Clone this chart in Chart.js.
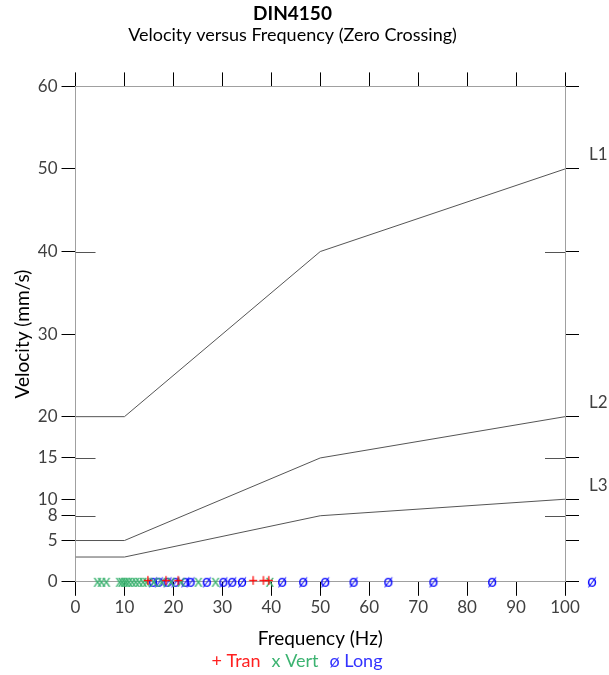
<!DOCTYPE html>
<html>
<head>
<meta charset="utf-8">
<script src="https://cdn.jsdelivr.net/npm/chart.js@4.4.1/dist/chart.umd.min.js"></script>
<style>
  html, body { margin: 0; padding: 0; background: #fff; }
  #wrap { width: 609px; height: 675px; }
</style>
</head>
<body>
<div id="wrap"><canvas id="dinChart"></canvas></div>
<script>
/*jshint esversion: 6 */

// DIN4150 guide lines
var limitFreq = [0, 10, 50, 100];
var limitL1 = [20, 20, 40, 50];
var limitL2 = [5, 5, 15, 20];
var limitL3 = [3, 3, 8, 10];

// zero crossing frequencies (Hz), drawn on the 0 velocity line
var tranFreq = [14.8, 18.5, 21.0, 36.3, 38.4, 39.5];
var vertFreq = [4.5, 5.3, 6.3, 9.0, 9.5, 10.0, 10.4, 10.9, 11.6, 12.3, 13.0, 13.8, 14.5,
                16.0, 17.6, 19.5, 21.6, 25.1, 28.6, 39.7];
// 105.5 is off scale; kept first so chart.js doesn't trim it as "not visible"
var longFreq = [105.5, 15.8, 17.0, 18.8, 20.4, 22.4, 23.5, 26.8, 30.2, 32.0, 34.0, 42.2, 46.5,
                51.0, 56.8, 63.9, 73.1, 85.1];

var velocityTicks = [0, 5, 8, 10, 15, 20, 30, 40, 50, 60];
var innerTicks = [40, 15, 8];

var FONT = 'Lato';
var TXT = '#404040';

function glyph(ch, color) {
  var c = document.createElement('canvas');
  c.width = 14;
  c.height = 18;
  var ctx = c.getContext('2d');
  ctx.font = '17px ' + FONT;
  ctx.fillStyle = color;
  ctx.textAlign = 'center';
  ctx.textBaseline = 'middle';
  ctx.fillText(ch, 7, 9);
  return c;
}

function atZero(freqs) {
  return freqs.map(function(f) { return {x: f, y: 0}; });
}

function limitLine(label, values) {
  return {
    type: 'line',
    label: label,
    endLabel: true,
    data: limitFreq.map(function(f, i) { return {x: f, y: values[i]}; }),
    borderColor: '#555555',
    borderWidth: 1,
    pointRadius: 0,
    fill: false
  };
}

function markers(label, freqs, ch, color) {
  return {
    type: 'scatter',
    label: label,
    data: atZero(freqs),
    pointStyle: glyph(ch, color),
    pointRadius: 7,
    clip: false
  };
}

var lineLabels = {
  id: 'lineLabels',
  afterDatasetsDraw: function(chart) {
    var ctx = chart.ctx;
    var whole = {left: 0, top: 0, right: chart.width, bottom: chart.height};
    chart.data.datasets.forEach(function(ds, i) {
      var pts = chart.getDatasetMeta(i).data;
      if (!ds.endLabel) {
        // points past the frame (eg. 105 Hz) are skipped by chart.js, draw them here
        pts.forEach(function(p) {
          if (p.x > chart.chartArea.right + 7) p.draw(ctx, whole);
        });
        return;
      }
      var last = pts[pts.length - 1];
      ctx.save();
      ctx.font = '17px ' + FONT;
      ctx.fillStyle = TXT;
      ctx.textBaseline = 'middle';
      ctx.fillText(ds.label, chart.chartArea.right + 24, last.y - 14);
      ctx.restore();
    });
  }
};

var innerTickMarks = {
  id: 'innerTickMarks',
  afterDraw: function(chart) {
    var y = chart.scales.y;
    var a = chart.chartArea;
    var ctx = chart.ctx;
    ctx.save();
    ctx.strokeStyle = '#555555';
    ctx.lineWidth = 1;
    innerTicks.forEach(function(v) {
      var py = Math.round(y.getPixelForValue(v)) + 0.5;
      ctx.beginPath();
      ctx.moveTo(a.left, py);
      ctx.lineTo(a.left + 20, py);
      ctx.moveTo(a.right - 20, py);
      ctx.lineTo(a.right, py);
      ctx.stroke();
    });
    ctx.restore();
  }
};

function setVelocityTicks(scale) {
  scale.ticks = velocityTicks.map(function(v) { return {value: v}; });
}

var tickGrid = {drawOnChartArea: false, tickLength: 14, color: '#000000'};
var frame = {color: '#a0a0a0'};

var chart = new Chart(document.getElementById('dinChart').getContext('2d'), {
  data: {
    datasets: [
      limitLine('L1', limitL1),
      limitLine('L2', limitL2),
      limitLine('L3', limitL3),
      markers('Tran', tranFreq, '+', '#ff0000'),
      markers('Vert', vertFreq, 'x', '#3cb371'),
      markers('Long', longFreq, '\u00f8', '#0000ff')
    ]
  },
  options: {
    responsive: true,
    maintainAspectRatio: false,
    animation: false,
    layout: {padding: {left: 6, right: 30, top: 0, bottom: -5}},
    scales: {
      x: {
        type: 'linear', position: 'bottom', min: 0, max: 100,
        grid: tickGrid, border: frame,
        ticks: {stepSize: 10, color: TXT, font: {family: FONT, size: 17}, padding: 2},
        title: {display: true, text: 'Frequency (Hz)', color: '#000', font: {family: FONT, size: 19}, padding: {top: 7, bottom: 0}}
      },
      x2: {
        type: 'linear', axis: 'x', position: 'top', min: 0, max: 100,
        grid: tickGrid, border: frame,
        ticks: {stepSize: 10, display: false}
      },
      y: {
        type: 'linear', position: 'left', min: 0, max: 60,
        afterBuildTicks: setVelocityTicks,
        grid: tickGrid, border: frame,
        ticks: {color: TXT, font: {family: FONT, size: 17}, padding: 4, autoSkip: false},
        title: {display: true, text: 'Velocity (mm/s)', color: '#000', font: {family: FONT, size: 19}, padding: {top: 5, bottom: 0}}
      },
      y2: {
        type: 'linear', axis: 'y', position: 'right', min: 0, max: 60,
        afterBuildTicks: setVelocityTicks,
        grid: tickGrid, border: frame,
        ticks: {display: false}
      }
    },
    plugins: {
      title: {
        display: true, text: 'DIN4150', color: '#000',
        font: {family: FONT, size: 19, weight: 'bold'}, padding: {top: 2, bottom: 0}
      },
      subtitle: {
        display: true, text: 'Velocity versus Frequency (Zero Crossing)', color: '#000',
        font: {family: FONT, size: 18}, padding: {top: 0, bottom: 26}
      },
      legend: {
        position: 'bottom',
        labels: {
          boxWidth: 0,
          padding: 2,
          font: {family: FONT, size: 18},
          generateLabels: function() {
            return [
              {text: '+ Tran', fontColor: '#ff2020', fillStyle: 'rgba(0,0,0,0)', strokeStyle: 'rgba(0,0,0,0)', lineWidth: 0},
              {text: 'x Vert', fontColor: '#3cb371', fillStyle: 'rgba(0,0,0,0)', strokeStyle: 'rgba(0,0,0,0)', lineWidth: 0},
              {text: '\u00f8 Long', fontColor: '#3333ff', fillStyle: 'rgba(0,0,0,0)', strokeStyle: 'rgba(0,0,0,0)', lineWidth: 0}
            ];
          }
        },
        onClick: null
      },
      tooltip: {enabled: false}
    }
  },
  plugins: [lineLabels, innerTickMarks]
});
</script>
</body>
</html>
